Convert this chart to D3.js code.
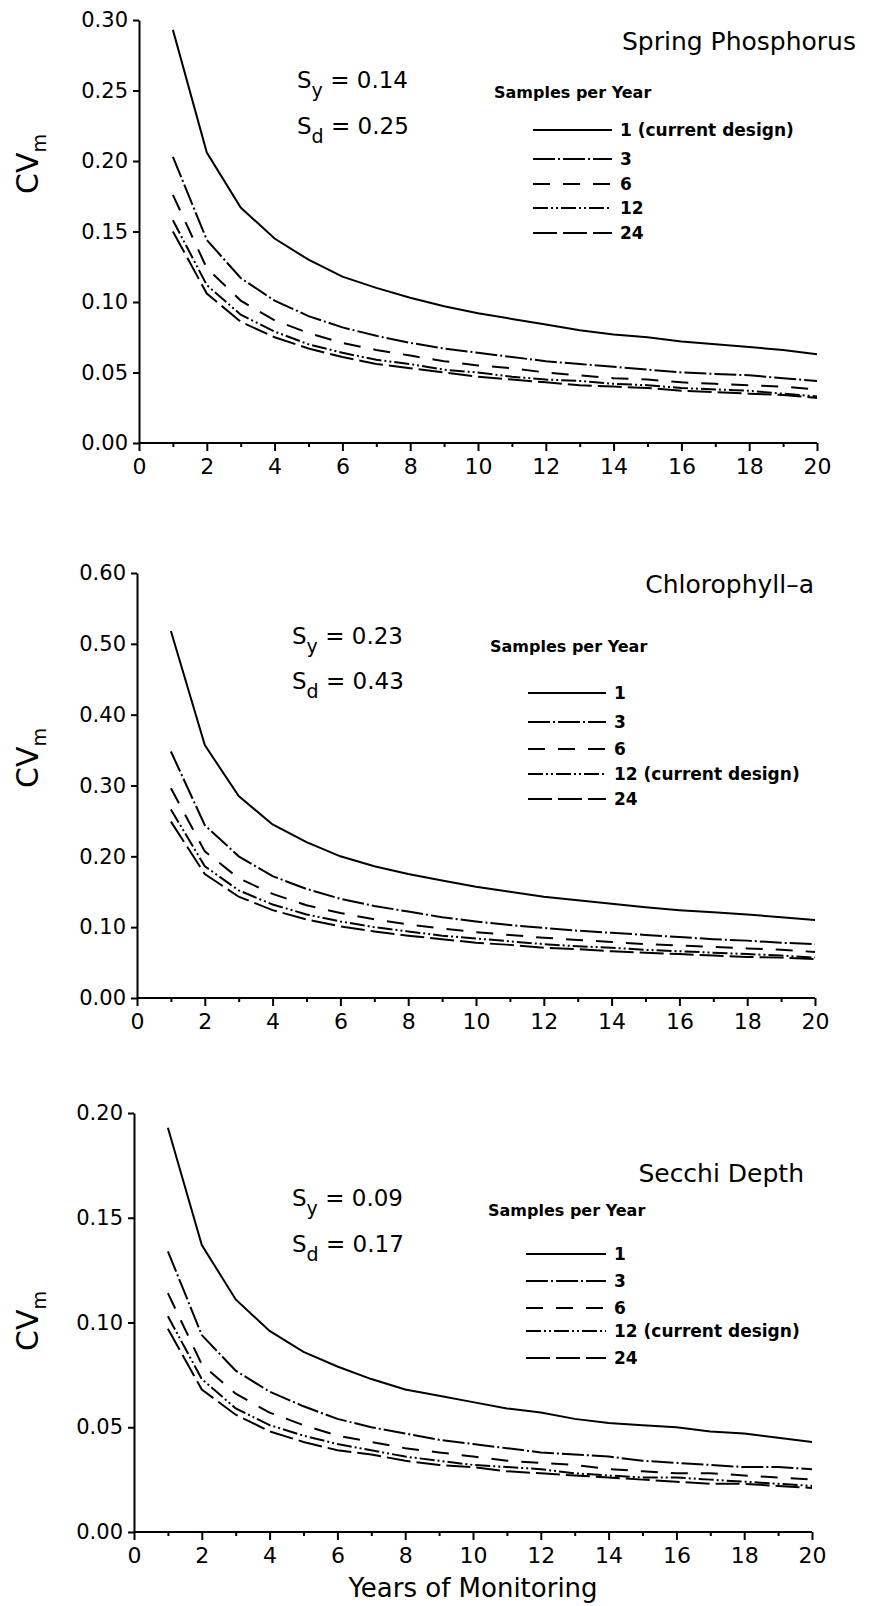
<!DOCTYPE html>
<html>
<head>
<meta charset="utf-8">
<script src="https://cdn.jsdelivr.net/npm/d3@7"></script>
<style>
  body { margin: 0; background: #fff; }
  svg { display: block; }
  text { font-family: "DejaVu Sans", sans-serif; fill: #000; }
</style>
</head>
<body>
<div id="chart"></div>
<script>
// years on the x axis
var years = [1,2,3,4,5,6,7,8,9,10,11,12,13,14,15,16,17,18,19,20];
var xTicks = [0,1,2,3,4,5,6,7,8,9,10,11,12,13,14,15,16,17,18,19,20];

// spring phosphorus, one array per samples/year
var phos1  = [0.293,0.206,0.167,0.145,0.130,0.118,0.110,0.103,0.097,0.092,0.088,0.084,0.080,0.077,0.075,0.072,0.070,0.068,0.066,0.063];
var phos3  = [0.203,0.144,0.117,0.101,0.090,0.082,0.076,0.071,0.067,0.064,0.061,0.058,0.056,0.054,0.052,0.050,0.049,0.048,0.046,0.044];
var phos6  = [0.176,0.124,0.101,0.087,0.078,0.071,0.066,0.062,0.058,0.055,0.053,0.050,0.048,0.046,0.045,0.043,0.042,0.041,0.040,0.038];
var phos12 = [0.158,0.112,0.091,0.079,0.070,0.064,0.059,0.056,0.052,0.050,0.047,0.045,0.044,0.042,0.041,0.039,0.038,0.037,0.035,0.033];
var phos24 = [0.150,0.106,0.086,0.075,0.067,0.061,0.056,0.053,0.050,0.047,0.045,0.043,0.041,0.040,0.039,0.037,0.036,0.035,0.034,0.032];

// chlorophyll-a
var chl1  = [0.518,0.357,0.285,0.245,0.220,0.200,0.186,0.175,0.166,0.157,0.150,0.143,0.138,0.133,0.128,0.124,0.121,0.118,0.114,0.110];
var chl3  = [0.348,0.244,0.200,0.172,0.154,0.140,0.130,0.122,0.114,0.108,0.103,0.099,0.095,0.092,0.089,0.086,0.083,0.081,0.078,0.076];
var chl6  = [0.296,0.207,0.169,0.147,0.131,0.120,0.111,0.104,0.098,0.093,0.089,0.085,0.082,0.079,0.076,0.074,0.072,0.070,0.068,0.065];
var chl12 = [0.266,0.186,0.152,0.132,0.118,0.108,0.100,0.094,0.088,0.084,0.080,0.076,0.073,0.071,0.068,0.066,0.064,0.062,0.060,0.057];
var chl24 = [0.249,0.175,0.143,0.124,0.111,0.101,0.094,0.088,0.083,0.078,0.075,0.071,0.069,0.066,0.064,0.062,0.060,0.058,0.057,0.055];

// secchi depth
var sec1  = [0.193,0.137,0.111,0.096,0.086,0.079,0.073,0.068,0.065,0.062,0.059,0.057,0.054,0.052,0.051,0.050,0.048,0.047,0.045,0.043];
var sec3  = [0.134,0.094,0.077,0.067,0.060,0.054,0.050,0.047,0.044,0.042,0.040,0.038,0.037,0.036,0.034,0.033,0.032,0.031,0.031,0.030];
var sec6  = [0.114,0.080,0.066,0.057,0.051,0.046,0.043,0.040,0.038,0.036,0.034,0.033,0.032,0.030,0.029,0.028,0.028,0.027,0.026,0.025];
var sec12 = [0.103,0.073,0.059,0.051,0.046,0.042,0.039,0.036,0.034,0.032,0.031,0.030,0.028,0.027,0.026,0.026,0.025,0.024,0.023,0.022];
var sec24 = [0.097,0.068,0.056,0.048,0.043,0.039,0.037,0.034,0.032,0.031,0.029,0.028,0.027,0.026,0.025,0.024,0.023,0.023,0.022,0.021];

var phosLabels = ["1 (current design)", "3", "6", "12", "24"];
var chlLabels = ["1", "3", "6", "12 (current design)", "24"];
var secLabels = ["1", "3", "6", "12 (current design)", "24"];

var phosYTicks = [0, 0.05, 0.10, 0.15, 0.20, 0.25, 0.30];
var chlYTicks = [0, 0.10, 0.20, 0.30, 0.40, 0.50, 0.60];
var secYTicks = [0, 0.05, 0.10, 0.15, 0.20];

// line styles: 1, 3, 6, 12, 24 samples per year
var dashes = [null, "22,3,2,3", "17,13", "15,3,2,3,2,3", "24,6"];

var panels = [
  { title: "Spring Phosphorus", sy: "0.14", sd: "0.25", series: [phos1, phos3, phos6, phos12, phos24],
    labels: phosLabels, yTicks: phosYTicks, x0: 139, top: 20, bottom: 443,
    titleX: 856, titleY: 50, sX: 297, syY: 88, sdY: 134,
    legX: 494, legY: 98, lineX0: 533, lineX1: 612, rows: [130, 159, 184, 208, 233], cvY: 164 },
  { title: "Chlorophyll\u2013a", sy: "0.23", sd: "0.43", series: [chl1, chl3, chl6, chl12, chl24],
    labels: chlLabels, yTicks: chlYTicks, x0: 137, top: 573, bottom: 998,
    titleX: 814, titleY: 593, sX: 292, syY: 644, sdY: 689,
    legX: 490, legY: 652, lineX0: 528, lineX1: 606, rows: [693, 722, 749, 774, 799], cvY: 758 },
  { title: "Secchi Depth", sy: "0.09", sd: "0.17", series: [sec1, sec3, sec6, sec12, sec24],
    labels: secLabels, yTicks: secYTicks, x0: 134, top: 1113, bottom: 1532,
    titleX: 804, titleY: 1182, sX: 292, syY: 1206, sdY: 1252,
    legX: 488, legY: 1216, lineX0: 526, lineX1: 606, rows: [1254, 1281, 1308, 1331, 1358], cvY: 1321 }
];

var width = 870, height = 1606, plotW = 678;

var svg = d3.select("#chart").append("svg")
  .attr("width", width).attr("height", height);

panels.forEach(function(p) {
  var x = d3.scaleLinear().domain([0, 20]).range([p.x0, p.x0 + plotW]);
  var yMax = p.yTicks[p.yTicks.length - 1];
  var y = d3.scaleLinear().domain([0, yMax]).range([p.bottom, p.top]);
  var g = svg.append("g");

  // minor ticks on odd years
  g.append("g")
    .attr("transform", "translate(0," + p.bottom + ")")
    .call(d3.axisBottom(x).tickValues(xTicks.filter(function(d) { return d % 2; }))
      .tickSize(4).tickSizeOuter(0).tickFormat(""))
    .call(function(a) { a.select(".domain").remove(); });

  // major ticks with labels
  g.append("g")
    .attr("transform", "translate(0," + p.bottom + ")")
    .call(d3.axisBottom(x).tickValues(xTicks.filter(function(d) { return d % 2 === 0; }))
      .tickSize(8).tickSizeOuter(0).tickPadding(7))
    .call(function(a) {
      a.select(".domain").attr("d", "M" + x(0) + ",0H" + x(20));
      a.selectAll("text").attr("font-size", 22).attr("font-family", "DejaVu Sans Condensed, DejaVu Sans");
    });

  g.append("g")
    .attr("transform", "translate(" + p.x0 + ",0)")
    .call(d3.axisLeft(y).tickValues(p.yTicks).tickSize(6).tickSizeOuter(0)
      .tickPadding(5).tickFormat(d3.format(".2f")))
    .call(function(a) {
      a.selectAll("text").attr("font-size", 21).attr("font-family", "DejaVu Sans Condensed, DejaVu Sans");
    });

  g.selectAll(".domain, .tick line").attr("stroke", "#000").attr("stroke-width", 2);

  var line = d3.line()
    .x(function(d, i) { return x(years[i]); })
    .y(function(d) { return y(d); });

  g.selectAll("path.curve")
    .data(p.series)
    .enter().append("path")
    .attr("class", "curve")
    .attr("d", line)
    .attr("fill", "none")
    .attr("stroke", "#000")
    .attr("stroke-width", 2)
    .attr("stroke-dasharray", function(d, i) { return dashes[i]; });

  // panel title
  g.append("text")
    .attr("x", p.titleX).attr("y", p.titleY)
    .attr("text-anchor", "end")
    .attr("font-size", 25)
    .text(p.title);

  // y axis label
  var cv = g.append("text")
    .attr("transform", "translate(38," + p.cvY + ") rotate(-90)")
    .attr("text-anchor", "middle")
    .attr("font-size", 30);
  cv.append("tspan").text("CV");
  cv.append("tspan").attr("font-size", 19).attr("dy", 8).text("m");

  // S_y and S_d
  [["y", p.sy, p.syY], ["d", p.sd, p.sdY]].forEach(function(s) {
    var t = g.append("text").attr("x", p.sX).attr("y", s[2]).attr("font-size", 23);
    t.append("tspan").text("S");
    t.append("tspan").attr("font-size", 19).attr("dy", 9).text(s[0]);
    t.append("tspan").attr("dy", -9).text(" = " + s[1]);
  });

  // legend
  g.append("text")
    .attr("x", p.legX).attr("y", p.legY)
    .attr("font-size", 16).attr("font-weight", "bold")
    .text("Samples per Year");

  var leg = g.selectAll("g.leg")
    .data(p.labels)
    .enter().append("g")
    .attr("class", "leg")
    .attr("transform", function(d, i) { return "translate(0," + p.rows[i] + ")"; });

  leg.append("line")
    .attr("x1", p.lineX0).attr("x2", p.lineX1)
    .attr("stroke", "#000").attr("stroke-width", 2)
    .attr("stroke-dasharray", function(d, i) { return dashes[i]; });

  leg.append("text")
    .attr("x", p.lineX1 + 8).attr("y", 6)
    .attr("font-size", 17).attr("font-weight", "bold")
    .text(function(d) { return d; });
});

svg.append("text")
  .attr("x", 473).attr("y", 1597)
  .attr("text-anchor", "middle")
  .attr("font-size", 26)
  .text("Years of Monitoring");
</script>
</body>
</html>
